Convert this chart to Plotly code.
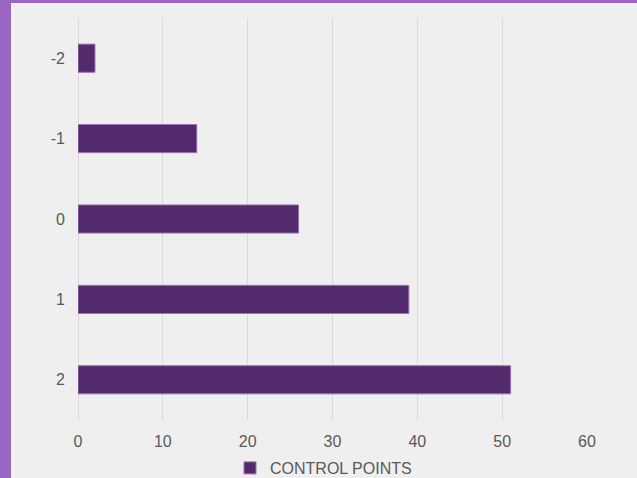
import plotly.graph_objects as go

# Control-point counts per level
levels = ["-2", "-1", "0", "1", "2"]
counts = [2, 14, 26, 39, 51]
series_name = "CONTROL POINTS"

W, H = 637, 478
ML, MR, MT, MB = 78, 50, 18, 58
pw, ph = W - ML - MR, H - MT - MB


def px_x(p):
    return (p - ML) / pw


def px_y(p):
    return (H - MB - p) / ph


fig = go.Figure()
fig.add_trace(go.Bar(
    x=counts, y=levels, orientation="h", name=series_name,
    marker=dict(color="#532b6c", line=dict(color="#9c72b8", width=1)),
    showlegend=True,
))

text_color = "#595959"
fig.update_layout(
    width=W, height=H,
    margin=dict(l=ML, r=MR, t=MT, b=MB, autoexpand=False),
    paper_bgcolor="#9b66c6",
    plot_bgcolor="rgba(0,0,0,0)",
    font=dict(family="Liberation Sans, Arial, sans-serif", color=text_color, size=16),
    bargap=0.65,
    showlegend=True,
    legend=dict(orientation="h", x=px_x(230), xanchor="left", y=px_y(468), yanchor="middle",
                font=dict(size=16, color=text_color), bgcolor="rgba(0,0,0,0)",
                itemwidth=30),
    xaxis=dict(range=[0, 60], dtick=10, showgrid=True, gridcolor="#d9d9d9", gridwidth=1,
               zeroline=True, zerolinecolor="#d9d9d9", zerolinewidth=1, showline=False,
               ticks="", ticklabelstandoff=10, tickfont=dict(size=16, color=text_color)),
    yaxis=dict(type="category", categoryorder="array", categoryarray=levels,
               autorange="reversed", showgrid=False, zeroline=False, showline=False,
               ticks="", ticklabelstandoff=12, tickfont=dict(size=16, color=text_color)),
    shapes=[dict(type="rect", xref="paper", yref="paper", layer="below",
                 x0=px_x(11), x1=px_x(W + 5), y0=px_y(H + 5), y1=px_y(3),
                 fillcolor="#efefef", line=dict(width=0))],
)

fig.write_html("out.html")
